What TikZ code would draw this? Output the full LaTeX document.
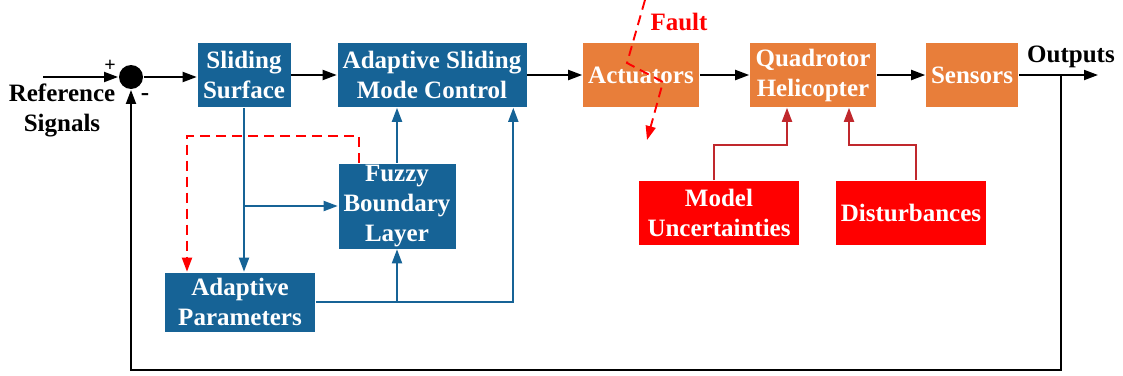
\documentclass[tikz,border=0pt]{standalone}
\usepackage{fontspec}
\setmainfont{Liberation Serif}
\usetikzlibrary{arrows.meta}
\definecolor{ctrlblue}{RGB}{22,99,150}
\definecolor{plantorange}{RGB}{232,126,58}
\definecolor{disturbred}{RGB}{255,0,0}
\definecolor{darkred}{RGB}{192,40,45}
\begin{document}
\begin{tikzpicture}[x=1pt, y=-1pt, line width=1.9pt, >={Triangle[length=14pt,width=10pt]},
    every node/.style={font=\fontsize{25}{30}\selectfont\bfseries, align=center, inner sep=0pt},
    blk/.style={minimum width=#1, text=white, draw=white, line width=0.6pt},
    ctrl/.style={blk=#1, fill=ctrlblue},
    plant/.style={blk=#1, fill=plantorange},
    dist/.style={blk=#1, fill=disturbred},
    sig/.style={->, black},
    blueline/.style={->, ctrlblue},
    redline/.style={->, darkred},
    faultline/.style={->, red, dash pattern=on 10pt off 6pt}]
  \useasboundingbox (0,0) rectangle (1123,375);
  % controller blocks
  \node [ctrl=94pt, minimum height=65pt] (surf) at (244,75) {Sliding\\Surface};
  \node [ctrl=190pt, minimum height=65pt] (asmc) at (432,75) {Adaptive Sliding\\Mode Control};
  \node [ctrl=118pt, minimum height=86pt] (fuzzy) at (397,206) {Fuzzy\\Boundary\\Layer};
  \node [ctrl=151pt, minimum height=60pt] (adapt) at (240,302) {Adaptive\\Parameters};
  % plant blocks
  \node [plant=117pt, minimum height=65pt] (act) at (641,75) {Actuators};
  \node [plant=127pt, minimum height=65pt] (quad) at (813,75) {Quadrotor\\Helicopter};
  \node [plant=93pt, minimum height=65pt] (sens) at (972,75) {Sensors};
  % external effects
  \node [dist=161pt, minimum height=65pt] (model) at (719,213) {Model\\Uncertainties};
  \node [dist=151pt, minimum height=65pt] (disturb) at (911,213) {Disturbances};
  % summing junction and labels
  \node [circle, fill=black, minimum size=24pt] (sum) at (131,77) {};
  \node (refsig) at (62,110) {Reference\\Signals};
  \node (plus) at (110,66) {\fontsize{20}{20}\selectfont +};
  \node (minus) at (145,97) {-};
  \node (outlbl) at (1071,57) {Outputs};
  \node [text=red] (faultlbl) at (679,22) {Fault};
  \coordinate (in) at (43,77);
  \coordinate (out) at (1098,75);
  \coordinate (tap) at (1061,75);
  \coordinate (bot) at (1061,370);
  % forward path
  \draw [sig] (in) -- (sum.west);
  \draw [sig] (sum.east) -- (surf.west |- sum.east);
  \draw [sig] (surf) -- (asmc);
  \draw [sig] (asmc) -- (act);
  \draw [sig] (act) -- (quad);
  \draw [sig] (quad) -- (sens);
  \draw [sig] (sens) -- (out);
  % feedback
  \draw [sig] (tap) -- (bot) -| (sum.south);
  % adaptive loop
  \draw [blueline] (surf.south) -- (surf.south |- adapt.north);
  \draw [blueline] (surf.south |- fuzzy.west) -- (fuzzy.west);
  \draw [blueline] (fuzzy.north) -- (fuzzy.north |- asmc.south);
  \draw [blueline] (adapt.east) -| ([xshift=-14pt]asmc.south east);
  \draw [blueline] (fuzzy.south |- adapt.east) -- (fuzzy.south);
  \draw [faultline] ([xshift=-38pt]fuzzy.north) -- ++(0,-27) -| ([xshift=-53pt]adapt.north);
  % disturbances into the plant
  \draw [redline] ([xshift=-5pt]model.north) |- (0,145 -| model.north) -| ([xshift=-26pt]quad.south);
  \draw [redline] ([xshift=5pt]disturb.north) |- (0,145 -| disturb.north) -| ([xshift=36pt]quad.south);
  % actuator fault
  \draw [faultline] (645,0) -- (627,63) -- (663,82) -- (647,140);
\end{tikzpicture}
\end{document}
